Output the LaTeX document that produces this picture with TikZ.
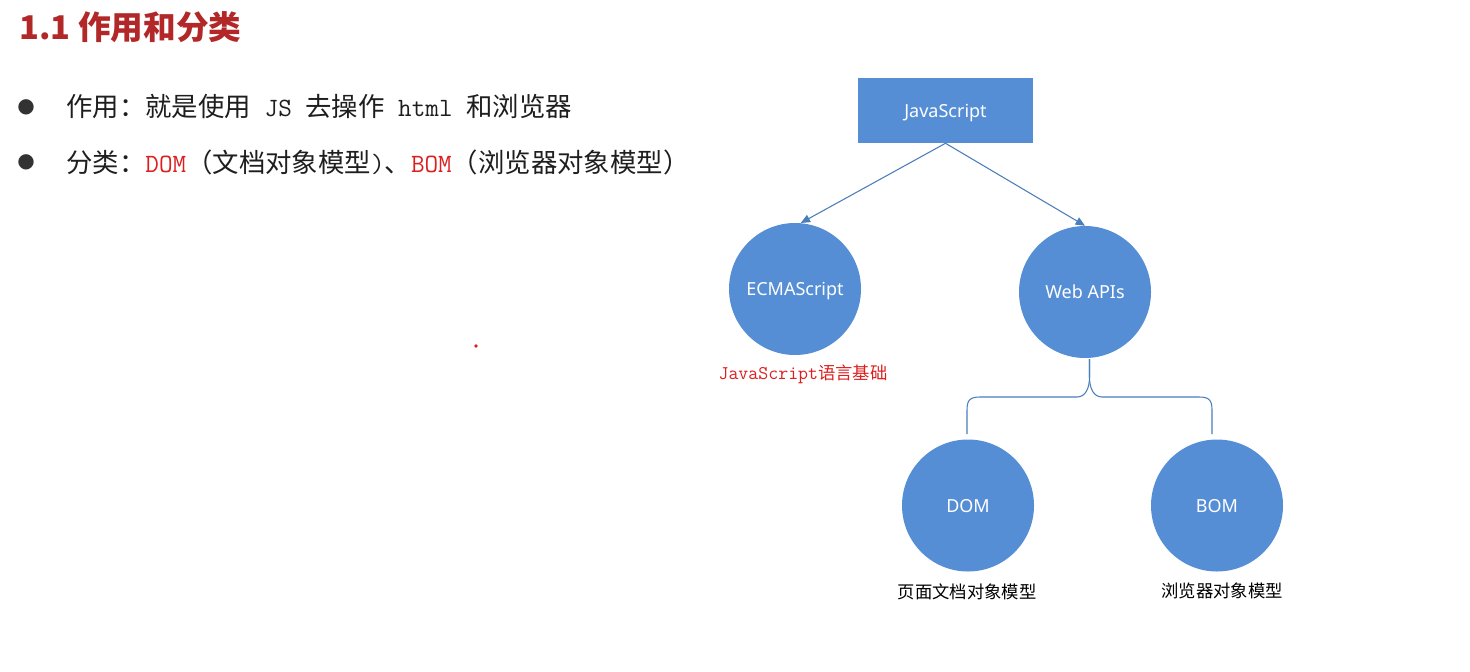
\documentclass[tikz,border=0pt]{standalone}
\usepackage{fontspec}
\setmainfont{Noto Sans}
\newfontfamily\cjk{Noto Sans CJK SC}
\newfontfamily\sym{DejaVu Sans}
\usetikzlibrary{arrows.meta}
\definecolor{fillb}{RGB}{85,142,213}
\definecolor{lineb}{RGB}{74,126,187}
\definecolor{titlered}{RGB}{178,40,40}
\definecolor{txtred}{RGB}{220,30,30}
\definecolor{bulgray}{RGB}{50,50,50}
\definecolor{bodyc}{RGB}{30,30,30}
\newcommand{\latin}[1]{{\ttfamily #1}}
\tikzset{
  blockbox/.style={fill=fillb, draw=none, text=white, inner sep=0pt, text depth=0pt, font=\fontsize{13.5}{15}\selectfont},
  circbox/.style={circle, fill=fillb, draw=none, text=white, inner sep=0pt, text depth=0pt, minimum size=99pt, font=\fontsize{13.5}{15}\selectfont},
  conn/.style={draw=lineb, line width=0.8pt},
  arr/.style={conn, -{Triangle[length=7pt,width=6pt]}},
  sublabel/.style={inner sep=0pt, font=\cjk\fontsize{13}{15}\selectfont},
  bodytext/.style={anchor=west, inner sep=0pt, text=bodyc, font=\cjk\fontsize{19.8}{22}\selectfont},
  bul/.style={inner sep=0pt, text=bulgray, font=\sym\fontsize{15}{15}\selectfont}
}
\begin{document}
\begin{tikzpicture}[x=0.75pt,y=-0.75pt]
\useasboundingbox (0,0) rectangle (1470,671);
% title
\node[anchor=west, inner sep=0pt, text=titlered, font=\cjk\bfseries\fontsize{24.5}{28}\selectfont] (title) at (19,27) {1.1 作用和分类};
% bullets
\node[bul] (b1) at (26,107) {●};
\node[bul] (b2) at (26,162) {●};
\node[bodytext] (t1) at (66,107) {作用：就是使用\latin{\ JS }去操作\latin{\ html }和浏览器};
\node[bodytext] (t2) at (66,162) {分类：\latin{\color{txtred}DOM}（文档对象模型\latin{)}、\latin{\color{txtred}BOM}（浏览器对象模型）};
% red dot
\fill[txtred] (476,346) circle (1.4pt);
% diagram
\node[blockbox, minimum width=131.25pt, minimum height=48.75pt] (js) at (945.5,110.5) {JavaScript};
\node[circbox] (ecma) at (795,289) {ECMAScript};
\node[circbox] (web) at (1085,292) {Web APIs};
\node[circbox] (dom) at (968,505.5) {DOM};
\node[circbox] (bom) at (1217,505.5) {BOM};
\draw[arr] (js.south) -- (ecma.85);
\draw[arr] (js.south) -- (web.north);
\node[sublabel, text=txtred] (ecmalbl) at (803,374) {{\ttfamily\fontsize{14.5}{15}\selectfont JavaScript}语言基础};
\node[sublabel, text=black] (domlbl) at (967,592) {页面文档对象模型};
\node[sublabel, text=black] (bomlbl) at (1222,591) {浏览器对象模型};
% brace
\coordinate (tip) at (1089.5,359);
\coordinate (bl) at (967,434);
\coordinate (br) at (1212,434);
\draw[conn] (tip) -- ++(0,18) .. controls +(0,12) and +(8,0) .. (1077,397) -- (980,397) .. controls +(-10,0) and +(0,-10) .. (967,410) -- (bl);
\draw[conn] (tip) -- ++(0,18) .. controls +(0,12) and +(-8,0) .. (1102,397) -- (1199,397) .. controls +(10,0) and +(0,-10) .. (1212,410) -- (br);
\end{tikzpicture}
\end{document}
